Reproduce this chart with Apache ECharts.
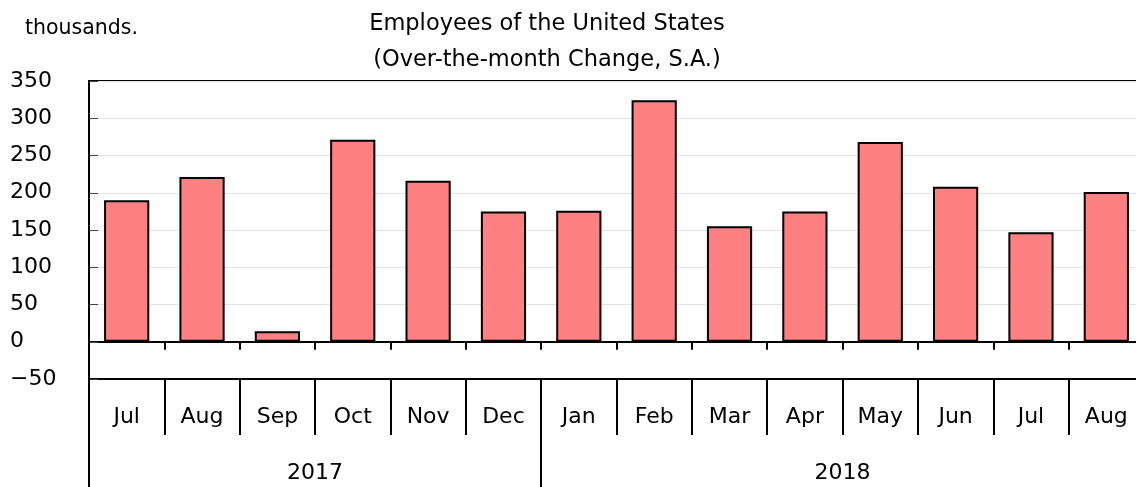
<!DOCTYPE html>
<html>
<head>
<meta charset="utf-8">
<script src="https://cdn.jsdelivr.net/npm/echarts@6/dist/echarts.min.js"></script>
<style>
  html, body { margin: 0; padding: 0; background: #fff; }
  #chart { width: 1136px; height: 487px; }
</style>
</head>
<body>
<div id="chart"></div>
<script>
// over-the-month change in payroll employment, thousands
const months = ['Jul', 'Aug', 'Sep', 'Oct', 'Nov', 'Dec', 'Jan', 'Feb', 'Mar', 'Apr', 'May', 'Jun', 'Jul', 'Aug'];
const payrollChange = [190, 221, 14, 271, 216, 175, 176, 324, 155, 175, 268, 208, 147, 201];
const years = ['2017', '2018'];
const monthsPerYear = [6, 8];
const yTicks = [-50, 0, 50, 100, 150, 200, 250, 300, 350];

// year boundaries / centres on a 0..n scale (one unit per month)
const yearEdges = [0];
monthsPerYear.forEach(function (n) { yearEdges.push(yearEdges[yearEdges.length - 1] + n); });
const yearMids = years.map(function (y, i) { return (yearEdges[i] + yearEdges[i + 1]) / 2; });

const font = 'DejaVu Sans';
const chart = echarts.init(document.getElementById('chart'));

const option = {
  animation: false,
  textStyle: { fontFamily: font },
  title: [
    {
      text: 'Employees of the United States\n(Over-the-month Change, S.A.)',
      left: 542,
      top: 1,
      textAlign: 'center',
      textStyle: { fontFamily: font, fontSize: 22.5, fontWeight: 'normal', color: '#000', lineHeight: 36 }
    },
    {
      text: 'thousands.',
      left: 20,
      top: 13,
      textStyle: { fontFamily: font, fontSize: 20.5, fontWeight: 'normal', color: '#000' }
    }
  ],
  grid: {
    left: 89,
    top: 81,
    width: 1055,
    bottom: 108,
    show: true,
    borderColor: '#000',
    borderWidth: 2,
    containLabel: false,
    outerBoundsMode: 'none'
  },
  xAxis: [
    {
      // month row under the plot
      type: 'category',
      data: months,
      position: 'bottom',
      axisLine: { onZero: false, lineStyle: { color: '#000', width: 2 } },
      axisTick: { show: true, interval: 0, length: 56, lineStyle: { color: '#000', width: 2 } },
      axisLabel: { interval: 0, margin: 27, color: '#000', fontSize: 22, fontFamily: font },
      splitLine: { show: false }
    },
    {
      // zero line with short ticks
      type: 'category',
      data: months,
      position: 'bottom',
      axisLine: { onZero: true, lineStyle: { color: '#000', width: 2 } },
      axisTick: { show: true, interval: 0, length: 8, lineStyle: { color: '#000', width: 2 } },
      axisLabel: { show: false },
      splitLine: { show: false }
    },
    {
      // year row
      type: 'value',
      min: 0,
      max: yearEdges[yearEdges.length - 1],
      position: 'bottom',
      offset: 56,
      axisLine: { show: false, onZero: false },
      axisTick: { show: true, customValues: yearEdges, length: 52, lineStyle: { color: '#000', width: 2 } },
      axisLabel: {
        customValues: yearMids,
        margin: 27,
        color: '#000',
        fontSize: 22,
        fontFamily: font,
        formatter: function (v) { return years[yearMids.indexOf(v)]; }
      },
      splitLine: { show: false }
    }
  ],
  yAxis: {
    type: 'value',
    min: yTicks[0],
    max: yTicks[yTicks.length - 1],
    interval: 50,
    axisLine: { show: true, onZero: false, lineStyle: { color: '#000', width: 2 } },
    axisTick: { show: true, inside: true, length: 9, lineStyle: { color: '#444', width: 1 } },
    axisLabel: {
      align: 'left',
      margin: 79,
      color: '#000',
      fontSize: 22,
      fontFamily: font,
      formatter: function (v) { return String(v).replace('-', '\u2212'); }
    },
    splitLine: { show: true, lineStyle: { color: '#e2e2e2', width: 1 } }
  },
  series: [
    {
      type: 'bar',
      xAxisIndex: 0,
      yAxisIndex: 0,
      data: payrollChange,
      barWidth: '60%',
      itemStyle: { color: '#ff8080', borderColor: '#000', borderWidth: 2 }
    }
  ]
};

chart.setOption(option);
</script>
</body>
</html>
